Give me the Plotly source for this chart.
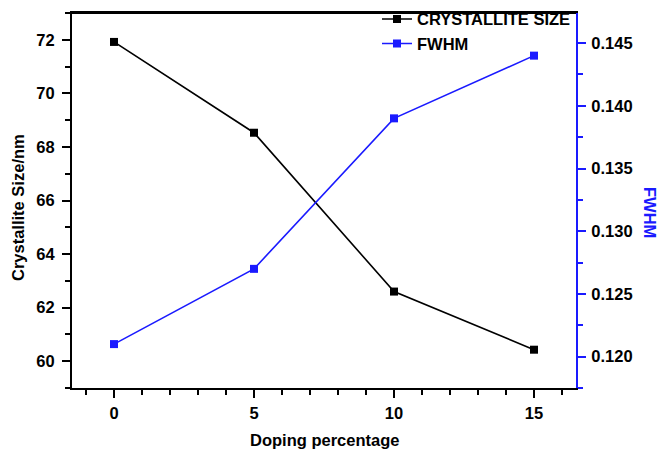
import plotly.graph_objects as go

doping = [0, 5, 10, 15]
crystallite_size = [71.92, 68.53, 62.6, 60.43]
fwhm = [0.121, 0.127, 0.139, 0.144]

BLUE = "#1a1aff"
FONT = "Liberation Sans, Arial, sans-serif"

fig = go.Figure()
fig.add_trace(go.Scatter(
    x=doping, y=crystallite_size, name="CRYSTALLITE SIZE",
    mode="lines+markers", line=dict(color="black", width=1.6),
    marker=dict(symbol="square", size=8, color="black"), yaxis="y"))
fig.add_trace(go.Scatter(
    x=doping, y=fwhm, name="FWHM",
    mode="lines+markers", line=dict(color=BLUE, width=1.6),
    marker=dict(symbol="square", size=8, color=BLUE), yaxis="y2"))

tickfont = dict(family=FONT, size=16.5, color="black", weight="bold")

L, R, T, B = 72, 82, 13, 61
W, H = 658, 449
PW, PH = W - L - R, H - T - B


def px(xp):
    return (xp - L) / PW


def py(yp):
    return (H - B - yp) / PH


fig.update_layout(
    width=W, height=H,
    margin=dict(l=L, r=R, t=T, b=B, autoexpand=False),
    paper_bgcolor="white", plot_bgcolor="white",
    showlegend=True,
    legend=dict(x=1.0, y=1.03, xanchor="right", yanchor="top",
                bgcolor="rgba(0,0,0,0)", borderwidth=0,
                font=dict(family=FONT, size=16.5, color="black", weight="bold"),
                tracegroupgap=0, itemwidth=30),
    xaxis=dict(range=[-1.5, 16.5], tickvals=[0, 5, 10, 15],
               showline=True, linecolor="black", linewidth=2, mirror=True,
               ticks="outside", ticklen=8, tickwidth=2, tickcolor="black",
               ticklabelstandoff=1,
               minor=dict(dtick=1, tick0=0, ticks="outside", ticklen=5, tickwidth=2, tickcolor="black"),
               showgrid=False, zeroline=False, tickfont=tickfont),
    yaxis=dict(range=[59, 73], tickvals=[60, 62, 64, 66, 68, 70, 72],
               showline=True, linecolor="black", linewidth=2,
               ticks="outside", ticklen=8, tickwidth=2, tickcolor="black",
               ticklabelstandoff=4,
               minor=dict(dtick=1, tick0=59, ticks="outside", ticklen=5, tickwidth=2, tickcolor="black"),
               showgrid=False, zeroline=False, tickfont=tickfont),
    yaxis2=dict(range=[0.1175, 0.1474], overlaying="y", side="right",
                tickvals=[0.120, 0.125, 0.130, 0.135, 0.140, 0.145],
                ticktext=["0.120", "0.125", "0.130", "0.135", "0.140", "0.145"],
                showline=True, linecolor=BLUE, linewidth=2,
                ticks="outside", ticklen=8, tickwidth=2, tickcolor=BLUE,
                ticklabelstandoff=2,
                minor=dict(dtick=0.0025, tick0=0.1175, ticks="outside", ticklen=5, tickwidth=2, tickcolor=BLUE),
                showgrid=False, zeroline=False, tickfont=tickfont),
    shapes=[dict(type="line", xref="paper", yref="paper", x0=0, x1=1, y0=1, y1=1,
                 line=dict(color="black", width=2), layer="above")],
    annotations=[
        dict(text="Doping percentage", x=px(324), y=py(440), xref="paper", yref="paper",
             xanchor="center", yanchor="middle", showarrow=False,
             font=dict(family=FONT, size=16.5, color="black", weight="bold")),
        dict(text="Crystallite Size/nm", x=px(18), y=py(208), xref="paper", yref="paper",
             xanchor="center", yanchor="middle", showarrow=False, textangle=-90,
             font=dict(family=FONT, size=16.5, color="black", weight="bold")),
        dict(text="FWHM", x=px(650), y=py(212), xref="paper", yref="paper",
             xanchor="center", yanchor="middle", showarrow=False, textangle=90,
             font=dict(family=FONT, size=16.5, color=BLUE, weight="bold")),
    ],
)

fig.write_html("out.html")
